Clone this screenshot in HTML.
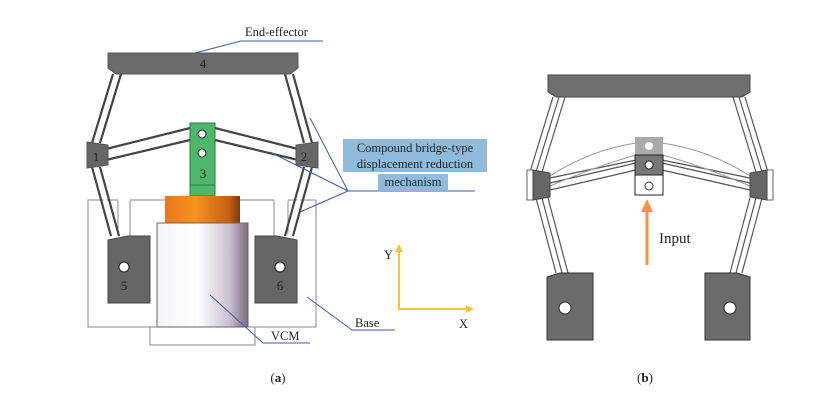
<!DOCTYPE html>
<html><head><meta charset="utf-8"><style>body{margin:0;background:#fff}svg{display:block}text{font-family:"Liberation Serif",serif}</style></head><body>
<svg width="814" height="407" viewBox="0 0 814 407" xmlns="http://www.w3.org/2000/svg">
<defs>
<linearGradient id="cyl" x1="0" x2="1"><stop offset="0" stop-color="#f4f4f6"/><stop offset="0.45" stop-color="#fff"/><stop offset="0.8" stop-color="#cbbfcf"/><stop offset="1" stop-color="#7a6a80"/></linearGradient>
<linearGradient id="org" x1="0" x2="1"><stop offset="0" stop-color="#e8781a"/><stop offset="0.4" stop-color="#f7931e"/><stop offset="0.85" stop-color="#c65f14"/><stop offset="1" stop-color="#7a3a10"/></linearGradient>
</defs>
<!-- Panel a -->
<g fill="none" stroke="#888" stroke-width="1">
<rect x="88" y="200" width="228" height="127"/>
<rect x="150" y="327" width="105" height="18"/>
</g>
<rect x="118" y="200" width="12" height="36" fill="#fff"/>
<rect x="274" y="200" width="14" height="36" fill="#fff"/>
<path d="M118 200V236M130 236V200H274V236M288 200V236" stroke="#888" fill="none"/>
<path d="M118 200H130M274 200H288" stroke="#fff" stroke-width="1.5"/>
<!-- links -->
<g stroke="#444" stroke-width="2.2" fill="none">
<path d="M113 74L92 143M121 74L100 143"/>
<path d="M92 167L111 236M100 167L119 236"/>
<path d="M293 74L312 143M285 74L304 143"/>
<path d="M312 167L293 236M304 167L285 236"/>
<path d="M106 149L190 128M106 160L190 140"/>
<path d="M298 149L215 128M298 160L215 140"/>
</g>
<g stroke="#fff" stroke-width="3" fill="none">
<path d="M117 74L96 143M96 167L115 236M289 74L308 143M308 167L289 236M106 154.5L190 134M298 154.5L215 134"/>
</g>
<path d="M108 53H298V68L290 74H116L108 68Z" fill="#6b6b6b" stroke="#555"/>
<text x="203" y="68" font-size="13" text-anchor="middle" fill="#222">4</text>
<path d="M87 142L108 145V165L87 168Z" fill="#666" stroke="#555"/>
<text x="96" y="161" font-size="13" text-anchor="middle" fill="#222">1</text>
<path d="M318 142L296 145V165L318 168Z" fill="#666" stroke="#555"/>
<text x="304" y="161" font-size="13" text-anchor="middle" fill="#222">2</text>
<rect x="190" y="123" width="25" height="73" fill="#4cb86a" stroke="#2e7a44"/>
<line x1="190" y1="185" x2="215" y2="185" stroke="#2e7a44"/>
<circle cx="202" cy="134" r="4" fill="#fff" stroke="#222"/>
<circle cx="202" cy="153" r="4" fill="#fff" stroke="#222"/>
<text x="203" y="178" font-size="13" text-anchor="middle" fill="#222">3</text>
<rect x="165" y="196" width="75" height="27" fill="url(#org)"/>
<rect x="157" y="223" width="91" height="104" fill="url(#cyl)" stroke="#666"/>
<path d="M108 240L128 236H150V303H108Z" fill="#666" stroke="#444"/>
<circle cx="124" cy="267" r="5" fill="#fff" stroke="#222"/>
<text x="124" y="290" font-size="13" text-anchor="middle" fill="#222">5</text>
<path d="M297 240L277 236H255V303H297Z" fill="#666" stroke="#444"/>
<circle cx="280" cy="267" r="5" fill="#fff" stroke="#222"/>
<text x="280" y="290" font-size="13" text-anchor="middle" fill="#222">6</text>
<!-- labels -->
<g stroke="#3a5bb0" stroke-width="1" fill="none">
<path d="M323 41H241L195 53"/>
<path d="M475 191H348L310 118M348 191L270 152M348 191L300 212"/>
<path d="M395 330H352L307 297"/>
<path d="M310 343H263L210 295"/>
</g>
<text x="245" y="36" font-size="12.5" fill="#222">End-effector</text>
<rect x="343" y="139" width="144" height="33" fill="#8fbcdc"/>
<rect x="378" y="174" width="70" height="16" fill="#8fbcdc"/>
<text x="415" y="152" font-size="12.5" text-anchor="middle" fill="#222">Compound bridge-type</text>
<text x="415" y="168" font-size="12.5" text-anchor="middle" fill="#222">displacement reduction</text>
<text x="413" y="186" font-size="12.5" text-anchor="middle" fill="#222">mechanism</text>
<text x="355" y="327" font-size="12.5" fill="#222">Base</text>
<text x="271" y="340" font-size="12.5" fill="#222">VCM</text>
<g stroke="#f9c22e" stroke-width="2" fill="none"><path d="M399 250V309H468"/></g>
<path d="M399 244L395 252H403Z M474 309L466 305V313Z" fill="#f9c22e"/>
<text x="384" y="259" font-size="12.5" fill="#222">Y</text>
<text x="459" y="328" font-size="12.5" fill="#222">X</text>
<text x="278" y="382" font-size="13" text-anchor="middle" fill="#222">(<tspan font-weight="bold">a</tspan>)</text>
<!-- Panel b -->
<g stroke="#555" stroke-width="1.2" fill="none">
<path d="M553 97L530 172M559 97L536 172M565 97L542 172"/>
<path d="M536 198L556 273M542 198L562 273M548 198L568 273"/>
<path d="M745 97L768 172M739 97L762 172M733 97L756 172"/>
<path d="M762 198L742 273M756 198L736 273M750 198L730 273"/>
<path d="M550 178L636 160M550 190L636 170M550 183L636 163"/>
<path d="M750 178L662 160M750 190L662 170M750 183L662 163"/>
</g>
<g stroke="#999" stroke-width="1" fill="none">
<path d="M550 176Q590 150 636 143M750 176Q710 150 662 143M550 186Q600 165 636 155M750 186Q700 165 662 155"/>
</g>
<path d="M548 75H750V92L742 97H556L548 92Z" fill="#6f6f6f" stroke="#444"/>
<rect x="527" y="170" width="6" height="30" fill="#fff" stroke="#666"/>
<path d="M533 170L550 173V197L533 200Z" fill="#666" stroke="#444"/>
<rect x="767" y="170" width="6" height="30" fill="#fff" stroke="#666"/>
<path d="M767 170L750 173V197L767 200Z" fill="#666" stroke="#444"/>
<rect x="635" y="137" width="28" height="18" fill="#aaa"/>
<circle cx="649" cy="146" r="4" fill="#fff"/>
<rect x="635" y="155" width="28" height="40" fill="#fff" stroke="#222"/>
<rect x="635" y="155" width="28" height="20" fill="#777" stroke="#222"/>
<circle cx="649" cy="165" r="4" fill="#fff" stroke="#222"/>
<circle cx="649" cy="186" r="4" fill="#fff" stroke="#333"/>
<line x1="647" y1="265" x2="647" y2="210" stroke="#f7943a" stroke-width="3"/>
<path d="M647 199L641 212H653Z" fill="#f7943a"/>
<text x="659" y="243" font-size="15" fill="#222">Input</text>
<path d="M547 277L560 273H593V340H547Z" fill="#6b6b6b" stroke="#333"/>
<circle cx="565" cy="308" r="6" fill="#fff" stroke="#222"/>
<path d="M750 277L737 273H705V340H750Z" fill="#6b6b6b" stroke="#333"/>
<circle cx="730" cy="308" r="6" fill="#fff" stroke="#222"/>
<text x="645" y="382" font-size="13" text-anchor="middle" fill="#222">(<tspan font-weight="bold">b</tspan>)</text>
</svg>
</body></html>
